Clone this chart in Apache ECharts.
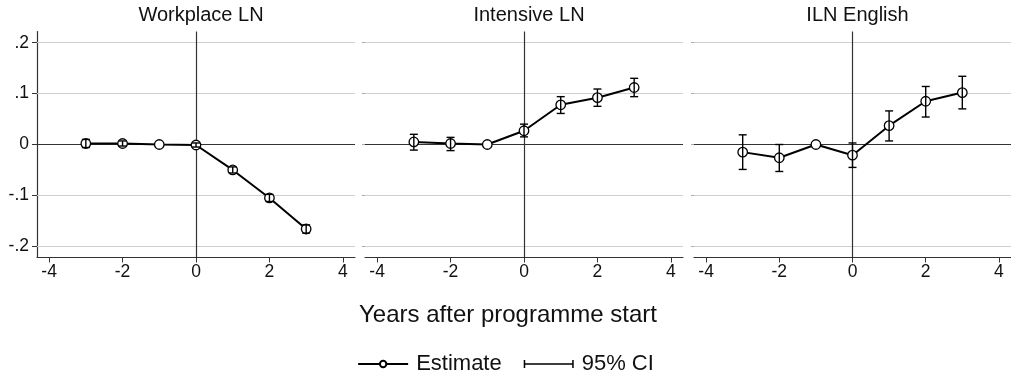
<!DOCTYPE html>
<html>
<head>
<meta charset="utf-8">
<script src="https://cdn.jsdelivr.net/npm/echarts@6/dist/echarts.min.js"></script>
<style>
html,body{margin:0;padding:0;background:#fff;}
#chart{width:1011px;height:376px;}
</style>
</head>
<body>
<div id="chart"></div>
<script>
// ---- data ----
var panelTitles = ['Workplace LN', 'Intensive LN', 'ILN English'];
var years = [-3, -2, -1, 0, 1, 2, 3];

var workplaceEst = [0.002, 0.002, 0, -0.001, -0.050, -0.105, -0.166];
var workplaceLo  = [-0.006, -0.003, null, -0.005, -0.056, -0.112, -0.174];
var workplaceHi  = [0.010, 0.007, null, 0.003, -0.044, -0.098, -0.158];

var intensiveEst = [0.005, 0.002, 0, 0.027, 0.078, 0.092, 0.112];
var intensiveLo  = [-0.011, -0.012, null, 0.015, 0.061, 0.075, 0.094];
var intensiveHi  = [0.020, 0.014, null, 0.040, 0.094, 0.109, 0.130];

var englishEst = [-0.015, -0.026, 0, -0.021, 0.037, 0.085, 0.102];
var englishLo  = [-0.049, -0.053, null, -0.045, 0.007, 0.054, 0.070];
var englishHi  = [0.019, 0.000, null, 0.003, 0.066, 0.114, 0.134];

var xTickValues = [-4, -2, 0, 2, 4];
var yTickValues = [-0.2, -0.1, 0, 0.1, 0.2];
var yTickLabels = ['-.2', '-.1', '0', '.1', '.2'];
var xAxisTitle = 'Years after programme start';
var legendNames = ['Estimate', '95% CI'];

// ---- build ----
var panels = [
  {est: workplaceEst, lo: workplaceLo, hi: workplaceHi},
  {est: intensiveEst, lo: intensiveLo, hi: intensiveHi},
  {est: englishEst, lo: englishLo, hi: englishHi}
];
var gridLefts = [37, 365, 694];
var gridWidths = [318, 318, 317];
var FONT = '"Liberation Sans", Arial, sans-serif';

var grids = [], xAxes = [], yAxes = [], series = [], titles = [];
panels.forEach(function (p, i) {
  grids.push({left: gridLefts[i], width: gridWidths[i], top: 31.5, height: 226, containLabel: false});
  xAxes.push({
    type: 'value', gridIndex: i, min: -4.33, max: 4.33,
    axisLine: {show: true, onZero: false, lineStyle: {color: '#333', width: 1.2}},
    axisTick: {show: true, length: 5, customValues: xTickValues, lineStyle: {color: '#333', width: 1}},
    axisLabel: {customValues: xTickValues, color: '#111', fontSize: 17.5, fontFamily: FONT, margin: 6},
    splitLine: {show: false}
  });
  yAxes.push({
    type: 'value', gridIndex: i, min: -0.222, max: 0.222,
    axisLine: {show: i === 0, onZero: false, lineStyle: {color: '#333', width: 1.2}},
    axisTick: {show: true, length: i === 0 ? 5 : 3, customValues: yTickValues, lineStyle: {color: i === 0 ? '#333' : '#aaa', width: 1}},
    axisLabel: {show: i === 0, customValues: yTickValues, color: '#111', fontSize: 17.5, fontFamily: FONT, margin: 8,
      formatter: function (v) {
        for (var k = 0; k < yTickValues.length; k++) { if (Math.abs(v - yTickValues[k]) < 1e-9) return yTickLabels[k]; }
        return '';
      }},
    splitLine: {show: false}
  });
  titles.push({
    text: panelTitles[i], left: gridLefts[i] + gridWidths[i] / 2, top: 0, textAlign: 'center',
    textStyle: {fontSize: 20, fontWeight: 'normal', color: '#111', fontFamily: FONT}
  });
  var lineData = years.map(function (x, k) { return [x, p.est[k]]; });
  var ciData = [];
  years.forEach(function (x, k) { if (p.lo[k] !== null) ciData.push([x, p.lo[k], p.hi[k]]); });

  series.push({
    name: legendNames[0], type: 'line', xAxisIndex: i, yAxisIndex: i, data: lineData,
    symbol: 'circle', symbolSize: 9.5, showAllSymbol: true, z: 3,
    lineStyle: {color: '#000', width: 2},
    itemStyle: {color: '#fff', borderColor: '#000', borderWidth: 1.3},
    emphasis: {disabled: true}, animation: false,
    markLine: {
      silent: true, symbol: 'none', animation: false, z: 1,
      label: {show: false},
      data: [
        {yAxis: 0.2, lineStyle: {color: '#cfcfcf', width: 1.2, type: 'solid'}},
        {yAxis: 0.1, lineStyle: {color: '#cfcfcf', width: 1.2, type: 'solid'}},
        {yAxis: -0.1, lineStyle: {color: '#cfcfcf', width: 1.2, type: 'solid'}},
        {yAxis: -0.2, lineStyle: {color: '#cfcfcf', width: 1.2, type: 'solid'}},
        {yAxis: 0, lineStyle: {color: '#333', width: 1.2, type: 'solid'}},
        {xAxis: 0, lineStyle: {color: '#333', width: 1.2, type: 'solid'}}
      ]
    }
  });
  series.push({
    name: legendNames[1], type: 'custom', xAxisIndex: i, yAxisIndex: i, data: ciData, z: 4,
    animation: false, silent: true,
    itemStyle: {color: '#000'},
    renderItem: function (params, api) {
      var x = api.value(0);
      var lo = api.coord([x, api.value(1)]);
      var hi = api.coord([x, api.value(2)]);
      var cw = 4;
      var st = {stroke: '#000', lineWidth: 1.4, fill: null};
      return {
        type: 'group',
        children: [
          {type: 'line', shape: {x1: lo[0], y1: lo[1], x2: hi[0], y2: hi[1]}, style: st},
          {type: 'line', shape: {x1: lo[0] - cw, y1: lo[1], x2: lo[0] + cw, y2: lo[1]}, style: st},
          {type: 'line', shape: {x1: hi[0] - cw, y1: hi[1], x2: hi[0] + cw, y2: hi[1]}, style: st}
        ]
      };
    }
  });
});

titles.push({
  text: xAxisTitle, left: 503, top: 298, textAlign: 'center',
  textStyle: {fontSize: 24, fontWeight: 'normal', color: '#111', fontFamily: FONT}
});

var option = {
  backgroundColor: '#fff',
  animation: false,
  title: titles,
  grid: grids,
  xAxis: xAxes,
  yAxis: yAxes,
  legend: {
    top: 348, left: 'center', itemGap: 22, itemWidth: 50, itemHeight: 8,
    selectedMode: false,
    textStyle: {fontSize: 22, color: '#111', fontFamily: FONT, padding: [0, 0, 0, 3]},
    data: [
      {name: legendNames[0]},
      {name: legendNames[1], icon: 'path://M0,0h1.5v8h-1.5z M1.5,3.2h47v1.6h-47z M48.5,0h1.5v8h-1.5z',
       itemStyle: {color: '#000'}}
    ]
  },
  series: series
};

var chart = echarts.init(document.getElementById('chart'), null, {renderer: 'canvas'});
chart.setOption(option);
</script>
</body>
</html>
